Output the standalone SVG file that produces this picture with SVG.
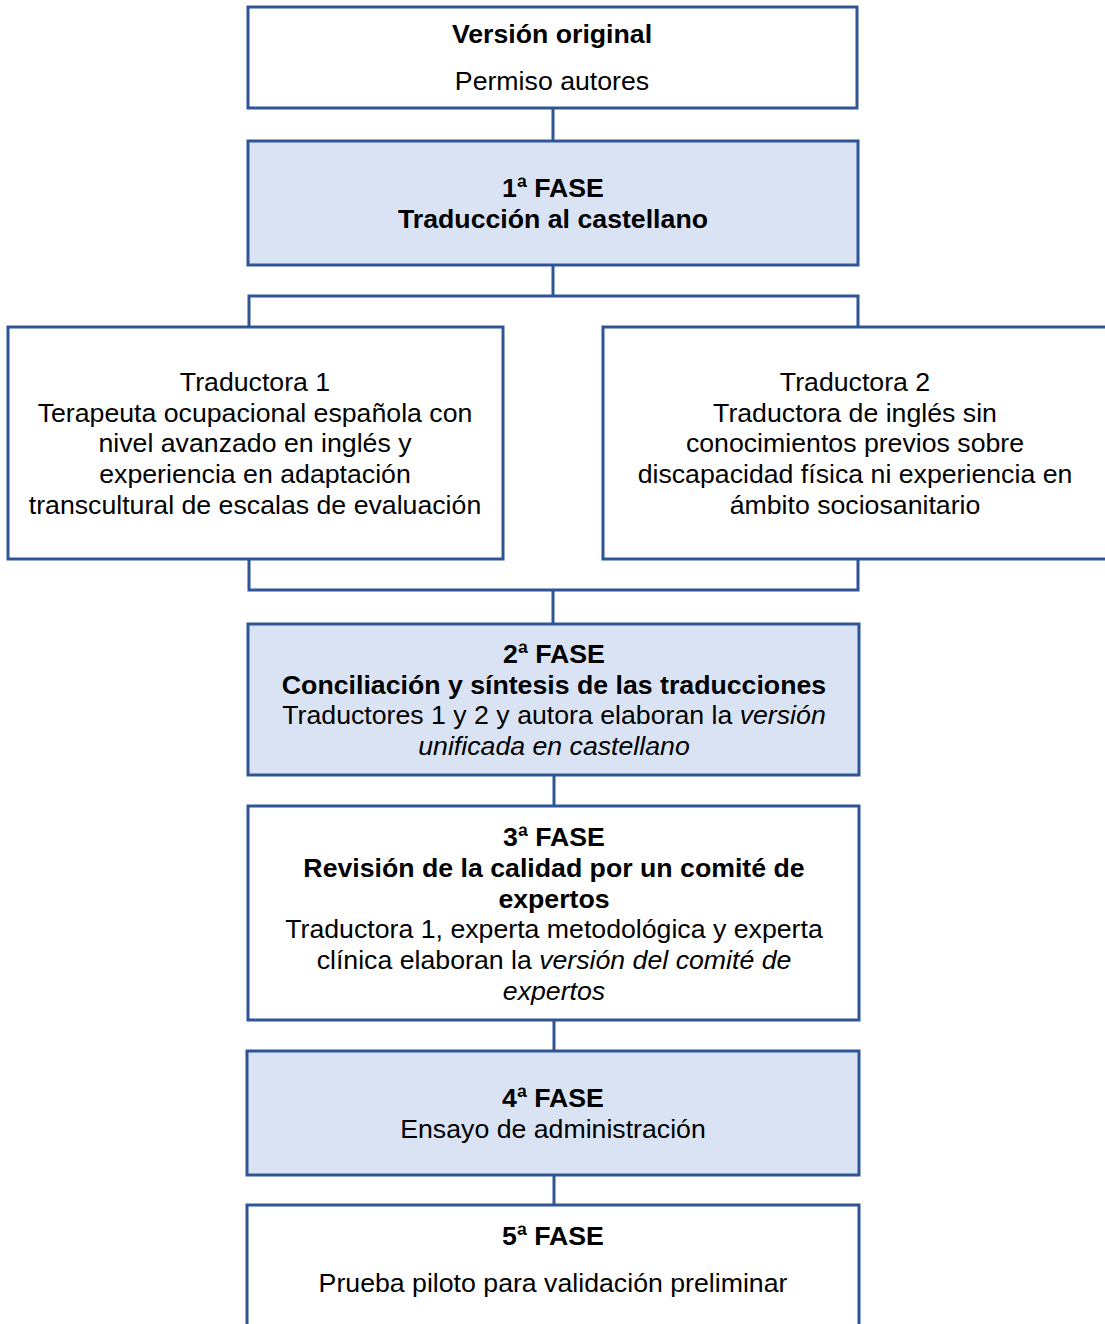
<svg xmlns="http://www.w3.org/2000/svg" width="1105" height="1324" viewBox="0 0 1105 1324">
<style>
.box{stroke:#2F5597;stroke-width:3;fill:#FFFFFF}
.fill{fill:#DAE3F3}
.con{stroke:#2F5597;stroke-width:3;fill:none}
text{font-family:"Liberation Sans",Arial,sans-serif;font-size:26.7px;fill:#000;text-anchor:middle}
.b{font-weight:bold}
.i{font-style:italic}
</style>
<rect width="1105" height="1324" fill="#FFFFFF"/>
<g id="connectors">
<line class="con" x1="553" y1="108" x2="553" y2="141"/>
<line class="con" x1="553" y1="265" x2="553" y2="296"/>
<polyline class="con" points="249,327 249,296 858,296 858,327"/>
<polyline class="con" points="249,559 249,590 858,590 858,559"/>
<line class="con" x1="553" y1="590" x2="553" y2="624"/>
<line class="con" x1="554" y1="775" x2="554" y2="806"/>
<line class="con" x1="554" y1="1020" x2="554" y2="1051"/>
<line class="con" x1="554" y1="1175" x2="554" y2="1205"/>
</g>
<g id="version-original">
<rect class="box" x="248" y="7" width="609" height="101"/>
<text x="552" y="43" class="b">Versión original</text>
<text x="552" y="90">Permiso autores</text>
</g>
<g id="fase1">
<rect class="box fill" x="248" y="141" width="610" height="124"/>
<text x="553" y="197" class="b">1ª FASE</text>
<text x="553" y="228" class="b">Traducción al castellano</text>
</g>
<g id="traductora1">
<rect class="box" x="8" y="327" width="495" height="232"/>
<text x="255" y="391">Traductora 1</text>
<text x="255" y="422">Terapeuta ocupacional española con</text>
<text x="255" y="452">nivel avanzado en inglés y</text>
<text x="255" y="483">experiencia en adaptación</text>
<text x="255" y="514">transcultural de escalas de evaluación</text>
</g>
<g id="traductora2">
<rect class="box" x="603" y="327" width="505" height="232"/>
<text x="855" y="391">Traductora 2</text>
<text x="855" y="422">Traductora de inglés sin</text>
<text x="855" y="452">conocimientos previos sobre</text>
<text x="855" y="483">discapacidad física ni experiencia en</text>
<text x="855" y="514">ámbito sociosanitario</text>
</g>
<g id="fase2">
<rect class="box fill" x="248" y="624" width="611" height="151"/>
<text x="554" y="663" class="b">2ª FASE</text>
<text x="554" y="694" class="b">Conciliación y síntesis de las traducciones</text>
<text x="554" y="724">Traductores 1 y 2 y autora elaboran la <tspan class="i">versión</tspan></text>
<text x="554" y="755" class="i">unificada en castellano</text>
</g>
<g id="fase3">
<rect class="box" x="248" y="806" width="611" height="214"/>
<text x="554" y="846" class="b">3ª FASE</text>
<text x="554" y="877" class="b">Revisión de la calidad por un comité de</text>
<text x="554" y="908" class="b">expertos</text>
<text x="554" y="938">Traductora 1, experta metodológica y experta</text>
<text x="554" y="969">clínica elaboran la <tspan class="i">versión del comité de</tspan></text>
<text x="554" y="1000" class="i">expertos</text>
</g>
<g id="fase4">
<rect class="box fill" x="247" y="1051" width="612" height="124"/>
<text x="553" y="1107" class="b">4ª FASE</text>
<text x="553" y="1138">Ensayo de administración</text>
</g>
<g id="fase5">
<rect class="box" x="247" y="1205" width="612" height="130"/>
<text x="553" y="1245" class="b">5ª FASE</text>
<text x="553" y="1292">Prueba piloto para validación preliminar</text>
</g>
</svg>
